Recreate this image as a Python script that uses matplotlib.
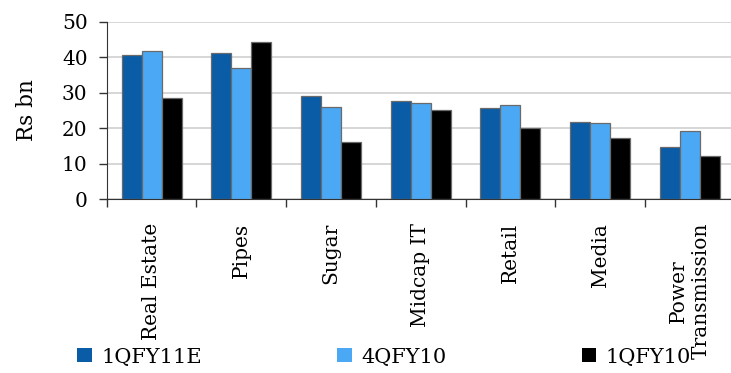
import matplotlib
matplotlib.use("Agg")
import matplotlib.pyplot as plt
from matplotlib.patches import Patch
import numpy as np

categories = ["Real Estate", "Pipes", "Sugar", "Midcap IT", "Retail", "Media",
              "Power\nTransmission"]
series_names = ["1QFY11E", "4QFY10", "1QFY10"]
q1fy11e = [40.5, 41.1, 29.2, 27.6, 25.8, 21.8, 14.6]
q4fy10 = [41.7, 37.1, 25.9, 27.0, 26.5, 21.4, 19.1]
q1fy10 = [28.6, 44.4, 16.2, 25.2, 20.1, 17.3, 12.2]
y_ticks = [0, 10, 20, 30, 40, 50]

colors = ["#0a5ca6", "#4aa8f4", "#000000"]

plt.rcParams["font.family"] = ["DejaVu Serif"]

fig = plt.figure(figsize=(7.31, 3.73), dpi=100)
ax = fig.add_axes([106.7 / 731, 1 - 199.3 / 373, 628 / 731, (199.3 - 21.7) / 373])

x = np.arange(len(categories))
width = 0.223
for i, (vals, c) in enumerate(zip([q1fy11e, q4fy10, q1fy10], colors)):
    ax.bar(x + (i - 1) * width, vals, width=width, color=c,
           edgecolor="#6a6a6a", linewidth=0.9, zorder=3)

ax.set_xlim(-0.5, len(categories) - 0.5)
ax.set_ylim(0, 50)
ax.set_yticks(y_ticks)
ax.yaxis.grid(True, color="#d6d6d6", linewidth=1.4, zorder=0)
ax.set_axisbelow(True)

# category boundary ticks, labels centred between them
ax.set_xticks(np.arange(-0.5, len(categories), 1.0))
ax.set_xticklabels([])
ax.set_xticks(x, minor=True)
ax.set_xticklabels(categories, minor=True, rotation=90, va="top", ha="center",
                   multialignment="center", fontsize=14.5)
ax.tick_params(axis="x", which="minor", length=0, pad=17)
ax.tick_params(axis="x", which="major", length=6, width=1, color="#333333")
ax.tick_params(axis="y", length=5.8, width=1, color="#333333", labelsize=14.5, pad=8)

for s in ["top", "right"]:
    ax.spines[s].set_visible(False)
ax.spines["left"].set_color("#333333")
ax.spines["bottom"].set_color("#333333")

ax.set_ylabel("Rs bn", fontsize=15.5, labelpad=17)

handles = [Patch(facecolor=c, edgecolor="none") for c in colors]
fig.legend(handles, series_names, loc="center left",
           bbox_to_anchor=(77 / 731, 1 - 357 / 373), ncol=3, frameon=False,
           fontsize=15, handlelength=0.7, handleheight=0.62,
           handletextpad=0.45, columnspacing=6.5, borderpad=0,
           borderaxespad=0)

fig.savefig("out.png", dpi=100)
